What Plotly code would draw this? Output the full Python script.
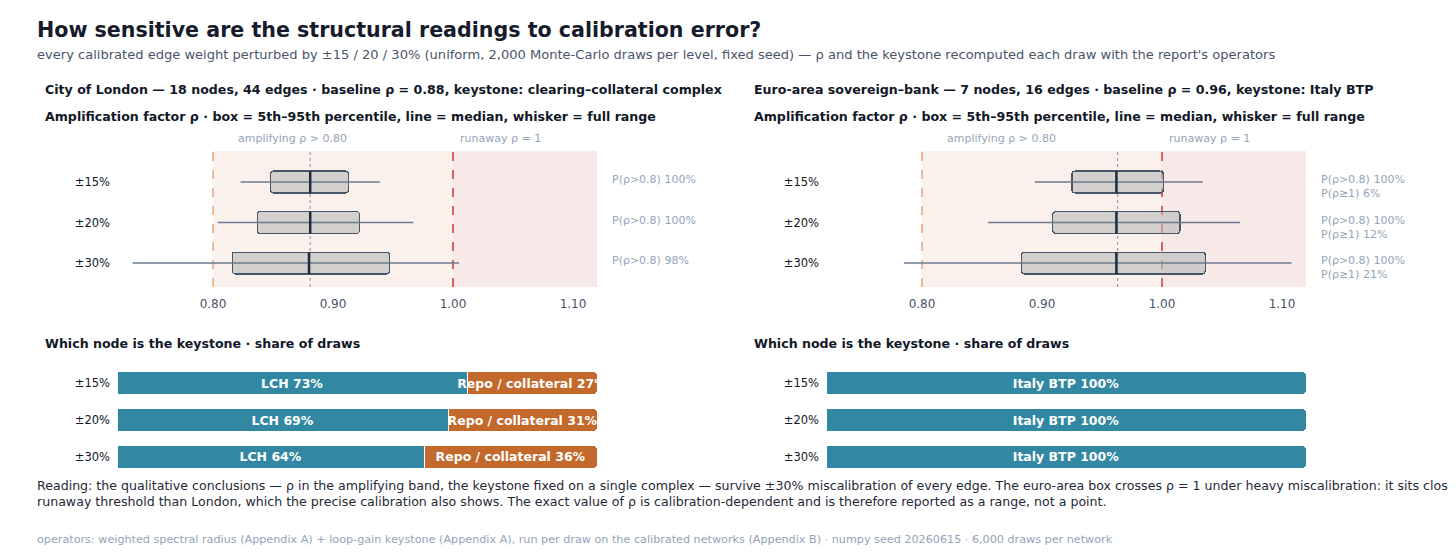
import plotly.graph_objects as go

FONT = "DejaVu Sans"
W, H = 1456, 560
OFF = 8  # page margin of the html body

LEVELS = ["±15%", "±20%", "±30%"]

# rho distribution per perturbation level: p5, median, p95, min, max
LON_P5 = [0.848, 0.837, 0.816]
LON_MED = [0.881, 0.881, 0.880]
LON_P95 = [0.913, 0.922, 0.947]
LON_MIN = [0.823, 0.804, 0.733]
LON_MAX = [0.939, 0.967, 1.005]
LON_BASE = 0.881
LON_NOTES = ["P(ρ>0.8) 100%", "P(ρ>0.8) 100%", "P(ρ>0.8) 98%"]

EUR_P5 = [0.925, 0.909, 0.883]
EUR_MED = [0.962, 0.962, 0.962]
EUR_P95 = [1.001, 1.015, 1.036]
EUR_MIN = [0.894, 0.855, 0.785]
EUR_MAX = [1.034, 1.065, 1.108]
EUR_BASE = 0.963
EUR_NOTES = ["P(ρ>0.8) 100%<br>P(ρ≥1) 6%", "P(ρ>0.8) 100%<br>P(ρ≥1) 12%",
             "P(ρ>0.8) 100%<br>P(ρ≥1) 21%"]

# keystone share of draws
LON_KEY_A = [73, 69, 64]
LON_KEY_B = [27, 31, 36]
LON_NAME_A = "LCH"
LON_NAME_B = "Repo / collateral"
EUR_KEY_A = [100, 100, 100]
EUR_NAME_A = "Italy BTP"

AMPLIFY, RUNAWAY = 0.80, 1.00
XRANGE = [0.72, 1.12]

TEAL = "#3288a2"
ORANGE = "#c4692c"
DARK = "#111827"
MUTED = "#94a3b8"


def py(px):
    return 1 - (px - OFF) / H


def px_x(px):
    return (px - OFF) / W


fig = go.Figure()

panels = [
    dict(ax="", dom=[px_x(117), px_x(597)], p5=LON_P5, med=LON_MED, p95=LON_P95, lo=LON_MIN,
         hi=LON_MAX, base=LON_BASE, notes=LON_NOTES),
    dict(ax="3", dom=[px_x(826), px_x(1306)], p5=EUR_P5, med=EUR_MED, p95=EUR_P95, lo=EUR_MIN,
         hi=EUR_MAX, base=EUR_BASE, notes=EUR_NOTES),
]

rows = list(range(len(LEVELS)))
BOXW = 0.54

for p in panels:
    xa, ya = "x" + p["ax"], "y" + p["ax"]
    # box = 5th-95th percentile
    fig.add_trace(go.Bar(
        y=rows, x=[b - a for a, b in zip(p["p5"], p["p95"])], base=p["p5"], orientation="h",
        width=BOXW, marker=dict(color="rgba(185,185,185,0.62)", line=dict(color="#475569", width=1.2),
                                cornerradius=3),
        xaxis=xa, yaxis=ya, showlegend=False, hoverinfo="skip"))
    # whiskers (full range)
    wx, wy = [], []
    for r in rows:
        wx += [p["lo"][r], p["hi"][r], None]
        wy += [r, r, None]
    fig.add_trace(go.Scatter(x=wx, y=wy, mode="lines", line=dict(color="#6b7a90", width=1.5),
                             xaxis=xa, yaxis=ya, showlegend=False, hoverinfo="skip"))
    # medians
    mx, my = [], []
    for r in rows:
        mx += [p["med"][r], p["med"][r], None]
        my += [r - BOXW / 2, r + BOXW / 2, None]
    fig.add_trace(go.Scatter(x=mx, y=my, mode="lines", line=dict(color="#1e2b40", width=2.5),
                             xaxis=xa, yaxis=ya, showlegend=False, hoverinfo="skip"))

    # bands and threshold lines
    fig.add_shape(type="rect", xref=xa, yref=ya + " domain", x0=AMPLIFY, x1=RUNAWAY, y0=0, y1=1,
                  fillcolor="#faf1ec", line_width=0, layer="below")
    fig.add_shape(type="rect", xref=xa, yref=ya + " domain", x0=RUNAWAY, x1=XRANGE[1], y0=0, y1=1,
                  fillcolor="#f8e9e9", line_width=0, layer="below")
    fig.add_shape(type="line", xref=xa, yref=ya + " domain", x0=AMPLIFY, x1=AMPLIFY, y0=0, y1=1,
                  line=dict(color="#e0915c", width=1.2, dash="dash"), layer="below")
    fig.add_shape(type="line", xref=xa, yref=ya + " domain", x0=RUNAWAY, x1=RUNAWAY, y0=0, y1=1,
                  line=dict(color="#c9282d", width=1.4, dash="dash"), layer="below")
    fig.add_shape(type="line", xref=xa, yref=ya + " domain", x0=p["base"], x1=p["base"], y0=0, y1=1,
                  line=dict(color="#9aa0a8", width=1.2, dash="dot"), layer="below")
    fig.add_annotation(xref=xa, yref=ya + " domain", x=AMPLIFY + 0.019, y=1.0, yshift=4,
                       text="amplifying ρ > 0.80", showarrow=False, xanchor="left", yanchor="bottom",
                       font=dict(size=11, color=MUTED, family=FONT))
    fig.add_annotation(xref=xa, yref=ya + " domain", x=RUNAWAY + 0.004, y=1.0, yshift=4,
                       text="runaway ρ = 1", showarrow=False, xanchor="left", yanchor="bottom",
                       font=dict(size=11, color=MUTED, family=FONT))
    for r in rows:
        fig.add_annotation(xref=xa + " domain", yref=ya, x=1.0, xshift=13, y=r - BOXW / 2,
                           text=p["notes"][r], showarrow=False, xanchor="left", yanchor="top",
                           align="left", font=dict(size=11, color=MUTED, family=FONT))


def share_bar(vals, name, color, xa, ya):
    fig.add_trace(go.Bar(
        y=rows, x=vals, orientation="h", width=0.6, xaxis=xa, yaxis=ya,
        marker=dict(color=color, line=dict(color="white", width=1), cornerradius=2),
        text=[f"{name} {v}%" for v in vals], textposition="inside",
        insidetextanchor="middle", constraintext="none",
        textfont=dict(color="white", size=12.5, family=FONT, weight="bold"),
        showlegend=False, hoverinfo="skip"))


share_bar(LON_KEY_A, LON_NAME_A, TEAL, "x2", "y2")
share_bar(LON_KEY_B, LON_NAME_B, ORANGE, "x2", "y2")
share_bar(EUR_KEY_A, EUR_NAME_A, TEAL, "x4", "y4")

box_y = dict(tickmode="array", tickvals=rows, ticktext=LEVELS, range=[2.59, -0.765],
             showgrid=False, zeroline=False, ticks="", ticklabelstandoff=6,
             tickfont=dict(size=11.5, color=DARK, family=FONT))
box_x = dict(range=XRANGE, tickvals=[0.8, 0.9, 1.0, 1.1], tickformat=".2f", showgrid=False,
             zeroline=False, ticks="", ticklabelstandoff=8,
             tickfont=dict(size=12, color="#475569", family=FONT))
bar_y = dict(tickmode="array", tickvals=rows, ticktext=LEVELS, range=[2.46, -0.46],
             showgrid=False, zeroline=False, ticks="", ticklabelstandoff=6,
             tickfont=dict(size=11.5, color=DARK, family=FONT))
bar_x = dict(range=[0, 100], visible=False)

top_dom = [py(287), py(151)]
bot_dom = [py(474), py(366)]

fig.update_layout(
    width=W, height=H, margin=dict(l=0, r=0, t=0, b=0),
    paper_bgcolor="white", plot_bgcolor="rgba(0,0,0,0)",
    barmode="stack", bargap=0.4,
    font=dict(family=FONT, color=DARK),
    xaxis=dict(box_x, domain=panels[0]["dom"], anchor="y"),
    yaxis=dict(box_y, domain=top_dom, anchor="x"),
    xaxis3=dict(box_x, domain=panels[1]["dom"], anchor="y3"),
    yaxis3=dict(box_y, domain=top_dom, anchor="x3"),
    xaxis2=dict(bar_x, domain=panels[0]["dom"], anchor="y2"),
    yaxis2=dict(bar_y, domain=bot_dom, anchor="x2"),
    xaxis4=dict(bar_x, domain=panels[1]["dom"], anchor="y4"),
    yaxis4=dict(bar_y, domain=bot_dom, anchor="x4"),
)


def text(x, y, s, size, color=DARK, bold=False):
    fig.add_annotation(xref="paper", yref="paper", x=px_x(x - 2), y=py(y), text=s, showarrow=False,
                       xanchor="left", yanchor="middle", align="left",
                       font=dict(size=size, color=color, family=FONT,
                                 weight="bold" if bold else "normal"))


text(37, 30, "How sensitive are the structural readings to calibration error?", 20.6, "#161b2b", True)
text(37, 54, "every calibrated edge weight perturbed by ±15 / 20 / 30% (uniform, 2,000 Monte-Carlo "
             "draws per level, fixed seed) — ρ and the keystone recomputed each draw with the "
             "report's operators", 13.05, "#4a5568")
text(45, 89, "City of London — 18 nodes, 44 edges · baseline ρ = 0.88, keystone: "
             "clearing–collateral complex", 12.6, DARK, True)
text(754, 89, "Euro-area sovereign–bank — 7 nodes, 16 edges · baseline ρ = 0.96, keystone: "
              "Italy BTP", 12.6, DARK, True)
for x0 in (45, 754):
    text(x0, 117, "Amplification factor ρ · box = 5th–95th percentile, line = median, "
                  "whisker = full range", 12.6, DARK, True)
    text(x0, 343, "Which node is the keystone · share of draws", 12.6, DARK, True)

fig.add_annotation(xref="paper", yref="paper", x=px_x(35), y=py(476), xanchor="left", yanchor="top",
                   align="left", showarrow=False,
                   text="Reading: the qualitative conclusions — ρ in the amplifying band, the keystone "
                        "fixed on a single complex — survive ±30% miscalibration of every edge. The "
                        "euro-area box crosses ρ = 1 under heavy miscalibration: it sits closer to the"
                        "<br>runaway threshold than London, which the precise calibration also shows. "
                        "The exact value of ρ is calibration-dependent and is therefore reported as a "
                        "range, not a point.",
                   font=dict(size=12.6, color="#1f2937", family=FONT))
text(37, 539, "operators: weighted spectral radius (Appendix A) + loop-gain keystone (Appendix A), "
              "run per draw on the calibrated networks (Appendix B) · numpy seed 20260615 · "
              "6,000 draws per network", 11.2, MUTED)

fig.write_html("out.html")
